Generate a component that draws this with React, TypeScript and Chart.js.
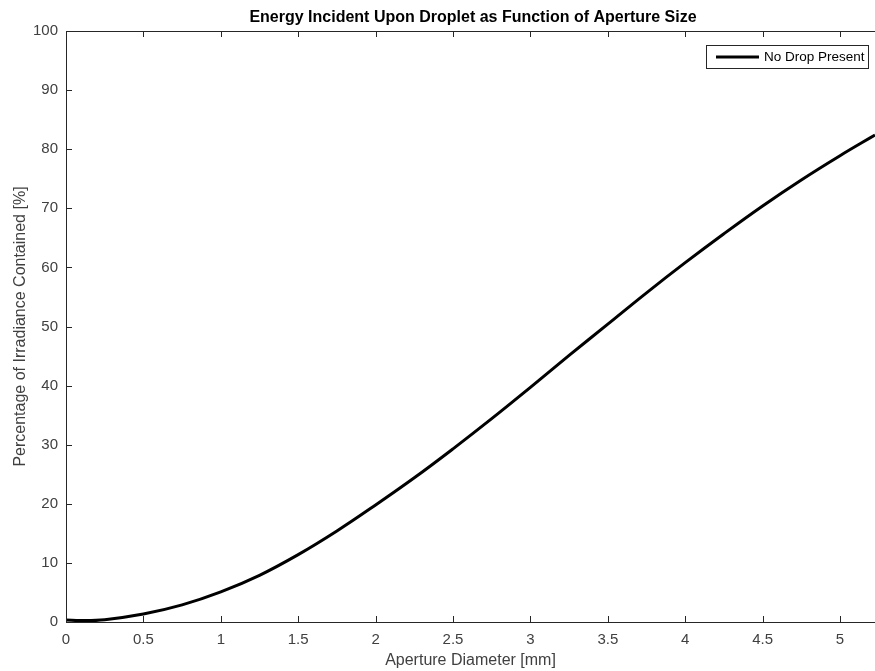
import React, { useEffect, useRef } from "react";
import { Chart, registerables } from "chart.js";

Chart.register(...registerables);

const chartTitle = "Energy Incident Upon Droplet as Function of Aperture Size";
const xAxisTitle = "Aperture Diameter [mm]";
const yAxisTitle = "Percentage of Irradiance Contained [%]";
const seriesLabel = "No Drop Present";

const apertureDiameter = [0, 0.1, 0.25, 0.5, 0.75, 1, 1.25, 1.5, 1.75, 2, 2.25, 2.5, 2.75, 3, 3.25, 3.5, 3.75, 4, 4.25, 4.5, 4.75, 5, 5.226];
const irradiancePct = [0.35, 0.25, 0.4, 1.35, 2.9, 5.1, 7.9, 11.4, 15.4, 19.8, 24.4, 29.3, 34.4, 39.7, 45.1, 50.4, 55.7, 60.8, 65.7, 70.4, 74.8, 78.9, 82.4];

const xTicks = [0, 0.5, 1, 1.5, 2, 2.5, 3, 3.5, 4, 4.5, 5];
const yTicks = [0, 10, 20, 30, 40, 50, 60, 70, 80, 90, 100];

const FONT = "'Liberation Sans', Arial, Helvetica, sans-serif";
const AXIS_COLOR = "#262626";
const TEXT_COLOR = "#404040";

const boxPlugin = {
  id: "matlabBox",
  afterDraw(chart: any) {
    const { ctx, chartArea, scales } = chart;
    const xs = scales.x;
    const ys = scales.y;
    ctx.save();
    // title, centred over the plot box (which extends slightly past the right edge)
    ctx.fillStyle = "#000000";
    ctx.font = `bold 16px ${FONT}`;
    ctx.textAlign = "center";
    ctx.textBaseline = "middle";
    ctx.fillText(chartTitle, 473, 18);

    ctx.strokeStyle = AXIS_COLOR;
    ctx.lineWidth = 1;
    // box
    ctx.beginPath();
    ctx.moveTo(chartArea.left + 0.5, chartArea.bottom + 0.5);
    ctx.lineTo(chartArea.left + 0.5, chartArea.top + 0.5);
    ctx.lineTo(chartArea.right + 0.5, chartArea.top + 0.5);
    ctx.moveTo(chartArea.left + 0.5, chartArea.bottom + 0.5);
    ctx.lineTo(chartArea.right + 0.5, chartArea.bottom + 0.5);
    ctx.stroke();
    // ticks
    const tl = 6;
    ctx.beginPath();
    xTicks.forEach((v) => {
      const px = Math.round(xs.getPixelForValue(v)) + 0.5;
      ctx.moveTo(px, chartArea.bottom);
      ctx.lineTo(px, chartArea.bottom - tl);
      ctx.moveTo(px, chartArea.top);
      ctx.lineTo(px, chartArea.top + tl);
    });
    yTicks.forEach((v) => {
      const py = Math.round(ys.getPixelForValue(v)) + 0.5;
      ctx.moveTo(chartArea.left, py);
      ctx.lineTo(chartArea.left + tl, py);
    });
    ctx.stroke();

    // legend
    const lx = 706, ly = 45, lw = 162, lh = 23;
    ctx.fillStyle = "#ffffff";
    ctx.fillRect(lx, ly, lw, lh);
    ctx.strokeStyle = "#262626";
    ctx.lineWidth = 1;
    ctx.strokeRect(lx + 0.5, ly + 0.5, lw, lh);
    ctx.strokeStyle = "#000000";
    ctx.lineWidth = 3;
    ctx.beginPath();
    ctx.moveTo(716, ly + lh / 2 + 0.5);
    ctx.lineTo(759, ly + lh / 2 + 0.5);
    ctx.stroke();
    ctx.fillStyle = "#000000";
    ctx.font = `13.5px ${FONT}`;
    ctx.textBaseline = "middle";
    ctx.textAlign = "left";
    ctx.fillText(seriesLabel, 764, ly + lh / 2 + 1);
    ctx.restore();
  },
};

export default function App() {
  const canvasRef = useRef<HTMLCanvasElement>(null);

  useEffect(() => {
    document.body.style.margin = "0";
    const canvas = canvasRef.current;
    if (!canvas) return;
    const points = apertureDiameter.map((x, i) => ({ x, y: irradiancePct[i] }));
    const chart = new Chart(canvas, {
      type: "line",
      data: {
        datasets: [
          {
            label: seriesLabel,
            data: points,
            borderColor: "#000000",
            borderWidth: 3,
            pointRadius: 0,
            fill: false,
            tension: 0.4,
          },
        ],
      },
      options: {
        animation: false,
        responsive: false,
        devicePixelRatio: 1,
        layout: { padding: { left: 0, right: 0, top: 0, bottom: 0 } },
        plugins: {
          legend: { display: false },
          tooltip: { enabled: false },
          title: {
            display: true,
            text: chartTitle,
            color: "rgba(0,0,0,0)",
            font: { family: FONT, size: 16, weight: "bold" },
            padding: { top: 8.4, bottom: 3.4 },
          },
        },
        scales: {
          x: {
            type: "linear",
            min: 0,
            max: 5.226,
            afterFit: (s: any) => {
              s.height = 49;
            },
            afterBuildTicks: (s: any) => {
              s.ticks = xTicks.map((v) => ({ value: v }));
            },
            grid: { display: false, drawTicks: false },
            border: { display: false },
            ticks: {
              color: TEXT_COLOR,
              font: { family: FONT, size: 15 },
              padding: 9,
              maxRotation: 0,
              autoSkip: false,
              callback: (v: any) => String(v),
            },
            title: {
              display: true,
              text: xAxisTitle,
              color: TEXT_COLOR,
              font: { family: FONT, size: 16 },
              padding: { top: 0, bottom: 1 },
            },
          },
          y: {
            type: "linear",
            min: 0,
            max: 100,
            afterFit: (s: any) => {
              s.width = 66;
            },
            afterBuildTicks: (s: any) => {
              s.ticks = yTicks.map((v) => ({ value: v }));
            },
            grid: { display: false, drawTicks: false },
            border: { display: false },
            ticks: {
              color: TEXT_COLOR,
              font: { family: FONT, size: 15 },
              padding: 8,
              autoSkip: false,
            },
            title: {
              display: true,
              text: yAxisTitle,
              color: TEXT_COLOR,
              font: { family: FONT, size: 16 },
              padding: { top: 11, bottom: 0 },
            },
          },
        },
      },
      plugins: [boxPlugin],
    });
    return () => chart.destroy();
  }, []);

  return (
    <div style={{ position: "absolute", left: 0, top: 0, width: 875, height: 671, background: "#ffffff" }}>
      <canvas ref={canvasRef} width={875} height={671} style={{ width: 875, height: 671, display: "block" }} />
    </div>
  );
}
